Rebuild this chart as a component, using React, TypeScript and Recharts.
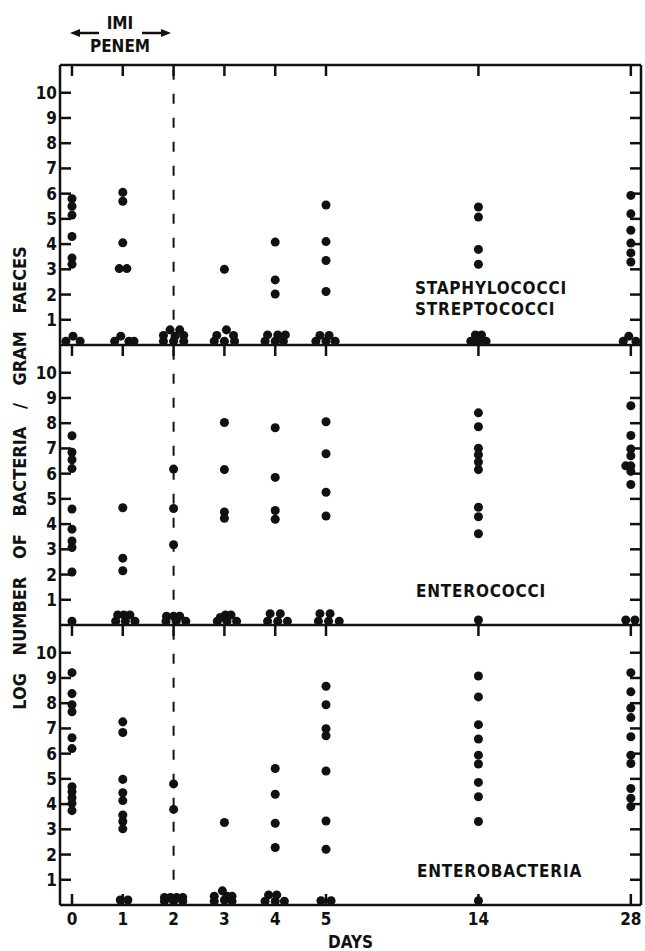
import React from "react";
import {
  ScatterChart,
  Scatter,
  XAxis,
  YAxis,
  ReferenceLine,
} from "recharts";

// days after start, and where each sits on the (compressed) day axis
const DAYS = [0, 1, 2, 3, 4, 5, 14, 28];
const DAY_SLOTS = [0, 1, 2, 3, 4, 5, 8, 11];
const Y_TICKS = [1, 2, 3, 4, 5, 6, 7, 8, 9, 10];
const LAST_IMIPENEM_DAY = 2;

// log count per day; [spread, value] pairs are dots pushed sideways in a pile-up
type Dot = number | [number, number];

const STAPH_STREP: Dot[][] = [
  [5.8, 5.5, 5.15, 4.3, 3.45, 3.2, [-0.12, 0.15], [0.02, 0.35], [0.16, 0.15]],
  [6.05, 5.7, 4.05, [-0.07, 3.03], [0.08, 3.03], [-0.16, 0.15], [-0.04, 0.35], [0.12, 0.15], [0.22, 0.15]],
  [[-0.2, 0.15], [0, 0.15], [0.2, 0.15], [-0.2, 0.38], [0.2, 0.38], [-0.07, 0.6], [0.12, 0.6], [0.03, 0.35]],
  [3.0, [-0.2, 0.15], [0, 0.15], [0.2, 0.15], [-0.15, 0.38], [0.18, 0.38], [0.04, 0.6]],
  [4.08, 2.58, 2.02, [-0.2, 0.15], [0, 0.15], [0.16, 0.15], [-0.15, 0.4], [0.05, 0.4], [0.2, 0.4]],
  [5.55, 4.1, 3.35, 2.12, [-0.2, 0.15], [0, 0.15], [0.18, 0.15], [-0.12, 0.38], [0.06, 0.38]],
  [5.47, 5.07, 3.79, 3.2, [-0.15, 0.15], [0, 0.15], [0.15, 0.15], [-0.06, 0.4], [0.06, 0.4]],
  [5.93, 5.2, 4.55, 4.04, 3.65, 3.29, [-0.15, 0.15], [0.1, 0.15], [-0.04, 0.35]],
];

const ENTEROCOCCI: Dot[][] = [
  [7.5, 6.85, 6.55, 6.2, 4.6, 3.8, 3.33, 3.07, 2.1, 0.15],
  [4.65, 2.65, 2.15, [-0.14, 0.15], [0.05, 0.15], [0.24, 0.15], [-0.1, 0.4], [0.02, 0.4], [0.14, 0.4]],
  [6.18, 4.62, 3.18, [-0.15, 0.15], [0.05, 0.15], [0.24, 0.15], [-0.14, 0.35], [0, 0.35], [0.12, 0.35]],
  [8.03, 6.16, 4.48, 4.23, [-0.14, 0.15], [0.05, 0.15], [0.24, 0.15], [-0.08, 0.3], [0.02, 0.4], [0.13, 0.4]],
  [7.82, 5.85, 4.54, 4.19, [-0.15, 0.15], [0.05, 0.15], [0.24, 0.15], [-0.1, 0.45], [0.1, 0.45]],
  [8.06, 6.79, 5.26, 4.32, [-0.15, 0.15], [0.05, 0.15], [0.26, 0.15], [-0.12, 0.45], [0.08, 0.45]],
  [8.41, 7.86, 7.01, 6.75, 6.46, 6.16, 4.67, 4.29, 3.62, 0.2],
  [8.69, 7.51, 6.98, 6.71, 6.31, [-0.1, 6.31], 6.09, 5.57, [-0.1, 0.2], [0.08, 0.2]],
];

const ENTEROBACTERIA: Dot[][] = [
  [9.21, 8.38, 7.94, 7.66, 6.63, 6.2, 4.69, 4.49, 4.25, 4.03, 3.74],
  [7.26, 6.84, 4.98, 4.45, 4.14, 3.57, 3.31, 3.02, [-0.05, 0.2], [0.1, 0.2]],
  [4.8, 3.79, [-0.18, 0.3], [-0.06, 0.3], [0.06, 0.3], [0.18, 0.3], [-0.18, 0.15], [0, 0.15], [0.18, 0.15]],
  [3.27, [-0.2, 0.15], [0, 0.2], [0.15, 0.15], [-0.2, 0.35], [0.05, 0.35], [0.15, 0.35], [-0.04, 0.56]],
  [5.41, 4.39, 3.24, 2.28, [-0.2, 0.15], [0, 0.15], [0.18, 0.15], [-0.13, 0.4], [0.03, 0.4]],
  [8.67, 7.94, 6.99, 6.71, 5.31, 3.33, 2.21, [-0.1, 0.17], [0.1, 0.17]],
  [9.08, 8.25, 7.15, 6.58, 5.94, 5.59, 4.86, 4.29, 3.31, 0.17],
  [9.21, 8.45, 7.81, 7.43, 6.67, 5.94, 5.61, 4.62, 4.23, 3.9],
];

const INK = "#111";
const FONT = "'DejaVu Sans Condensed', 'DejaVu Sans', sans-serif";
const X_DOMAIN: [number, number] = [-0.236, 11.2];
const Y_DOMAIN: [number, number] = [0, 11.1];

const CHART_W = 645;
const PLOT_H = 280;
const Y_AXIS_W = 60;
const M_TOP = 10;
const M_RIGHT = 4;
const TICK_IN = 11; // inward tick length in px
const TICK_W = 2.5;
const PLOT_W = CHART_W - Y_AXIS_W - M_RIGHT;
const PANEL_TOPS = [55, 335, 615];

const AXIS_LINE = { stroke: INK, strokeWidth: 2.5 };
const TICK_TEXT = { fill: INK, fontSize: 17, fontWeight: 700, fontFamily: FONT };

const toPoints = (dots: Dot[][]) =>
  dots.flatMap((day, i) =>
    day.map((d) =>
      Array.isArray(d)
        ? { x: DAY_SLOTS[i] + d[0], y: d[1] }
        : { x: DAY_SLOTS[i], y: d }
    )
  );

const dayLabel = (slot: number) => String(DAYS[DAY_SLOTS.indexOf(slot)]);

// same linear mapping the charts use, for the inward frame ticks
const px = (slot: number) =>
  Y_AXIS_W + ((slot - X_DOMAIN[0]) / (X_DOMAIN[1] - X_DOMAIN[0])) * PLOT_W;
const py = (plotTop: number, v: number) =>
  plotTop + PLOT_H - ((v - Y_DOMAIN[0]) / (Y_DOMAIN[1] - Y_DOMAIN[0])) * PLOT_H;

const FrameTicks = () => {
  const left = Y_AXIS_W;
  const right = CHART_W - M_RIGHT;
  const half = TICK_W / 2;
  return (
    <g fill={INK}>
      {PANEL_TOPS.map((t, p) => {
        const top = t + M_TOP;
        const last = p === PANEL_TOPS.length - 1;
        return (
          <g key={p}>
            {Y_TICKS.map((v) => (
              <g key={`y${v}`}>
                <rect x={left} y={py(top, v) - half} width={TICK_IN} height={TICK_W} />
                <rect x={right - TICK_IN} y={py(top, v) - half} width={TICK_IN} height={TICK_W} />
              </g>
            ))}
            {DAY_SLOTS.map((s) => (
              <g key={`x${s}`}>
                <rect x={px(s) - half} y={top} width={TICK_W} height={TICK_IN} />
                {last && (
                  <rect x={px(s) - half} y={top + PLOT_H - TICK_IN} width={TICK_W} height={TICK_IN} />
                )}
              </g>
            ))}
          </g>
        );
      })}
    </g>
  );
};

const Panel = ({ dots, top, last = false }: { dots: Dot[][]; top: number; last?: boolean }) => {
  const data = toPoints(dots);
  return (
    <div style={{ position: "absolute", left: 0, top }}>
      <ScatterChart
        width={CHART_W}
        height={M_TOP + PLOT_H + (last ? 46 : 10)}
        margin={{ top: M_TOP, right: M_RIGHT, bottom: last ? 0 : 10, left: 0 }}
      >
        <XAxis
          xAxisId="x"
          dataKey="x"
          type="number"
          domain={X_DOMAIN}
          allowDataOverflow
          ticks={DAY_SLOTS}
          interval={0}
          tickFormatter={dayLabel}
          hide={!last}
          height={46}
          axisLine={AXIS_LINE}
          tickLine={false}
          tickSize={5}
          tickMargin={3}
          tick={TICK_TEXT}
          label={{ value: "DAYS", position: "insideBottom", offset: 3, ...TICK_TEXT }}
        />
        <XAxis
          xAxisId="frame"
          orientation="top"
          mirror
          type="number"
          domain={X_DOMAIN}
          tick={false}
          axisLine={AXIS_LINE}
        />
        <YAxis
          yAxisId="y"
          dataKey="y"
          type="number"
          domain={Y_DOMAIN}
          allowDataOverflow
          ticks={Y_TICKS}
          interval={0}
          width={Y_AXIS_W}
          tickLine={false}
          tickSize={2}
          tickMargin={1}
          axisLine={AXIS_LINE}
          tick={TICK_TEXT}
        />
        <YAxis
          yAxisId="frame"
          orientation="right"
          mirror
          type="number"
          domain={Y_DOMAIN}
          tick={false}
          axisLine={AXIS_LINE}
        />
        <ReferenceLine
          xAxisId="x"
          yAxisId="y"
          segment={[
            { x: LAST_IMIPENEM_DAY, y: 1 },
            { x: LAST_IMIPENEM_DAY, y: Y_DOMAIN[1] },
          ]}
          stroke={INK}
          strokeWidth={2}
          strokeDasharray="10 14"
        />
        <Scatter xAxisId="x" yAxisId="y" data={data} fill={INK} isAnimationActive={false} />
      </ScatterChart>
    </div>
  );
};

const text = { fill: INK, fontFamily: FONT, fontWeight: 700, fontSize: 17 };

export default function App() {
  return (
    <div
      style={{
        position: "absolute",
        left: 0,
        top: 0,
        width: 645,
        height: 951,
        background: "#fff",
        overflow: "hidden",
      }}
    >
      <Panel dots={STAPH_STREP} top={PANEL_TOPS[0]} />
      <Panel dots={ENTEROCOCCI} top={PANEL_TOPS[1]} />
      <Panel dots={ENTEROBACTERIA} top={PANEL_TOPS[2]} last />
      <svg
        width={645}
        height={951}
        style={{ position: "absolute", left: 0, top: 0, pointerEvents: "none" }}
      >
        <FrameTicks />

        <text x={120} y={29} textAnchor="middle" {...text}>IMI</text>
        <text x={120} y={52} textAnchor="middle" {...text}>PENEM</text>
        <line x1={78} y1={33} x2={99} y2={33} stroke={INK} strokeWidth={2.5} />
        <polygon points="70,33 80,29 80,37" fill={INK} />
        <line x1={142} y1={33} x2={163} y2={33} stroke={INK} strokeWidth={2.5} />
        <polygon points="171,33 161,29 161,37" fill={INK} />

        <text
          transform="translate(19, 478) rotate(-90)"
          textAnchor="middle"
          dominantBaseline="central"
          wordSpacing={12}
          {...text}
          fontSize={18}
        >
          LOG NUMBER OF BACTERIA / GRAM FAECES
        </text>

        <text x={415} y={294} letterSpacing={0.8} {...text}>STAPHYLOCOCCI</text>
        <text x={415} y={315} letterSpacing={0.8} {...text}>STREPTOCOCCI</text>
        <text x={416} y={597} letterSpacing={0.8} {...text}>ENTEROCOCCI</text>
        <text x={417} y={877} letterSpacing={0.8} {...text}>ENTEROBACTERIA</text>
      </svg>
    </div>
  );
}
